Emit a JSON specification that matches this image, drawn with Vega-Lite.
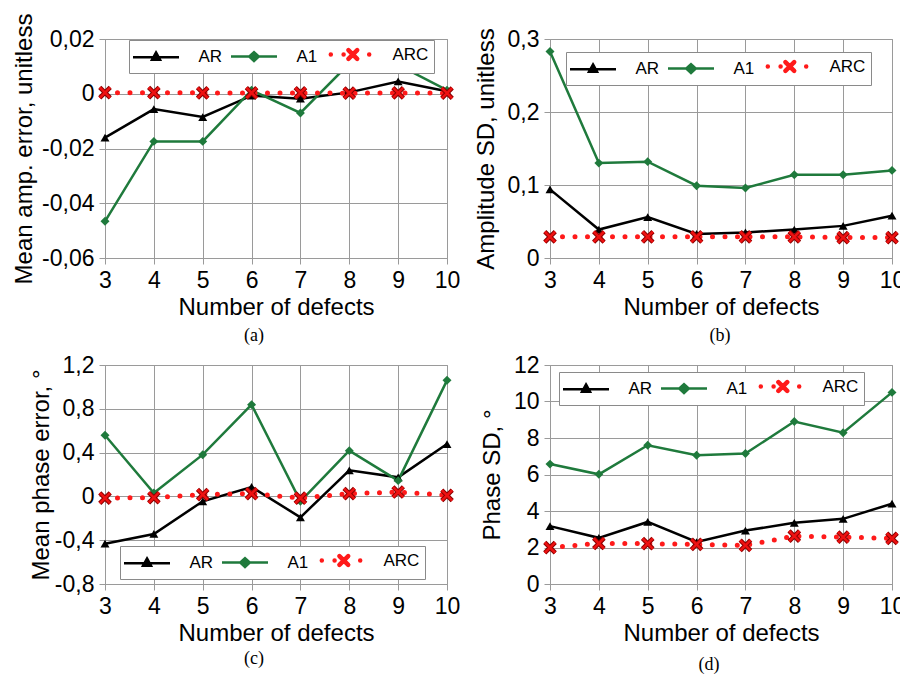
{
  "$schema": "https://vega.github.io/schema/vega-lite/v6.json",
  "background": "white",
  "padding": {"left": 12, "top": 12, "right": 0, "bottom": 0},
  "autosize": {"type": "pad"},
  "datasets": {
    "d": [
      {"p":"a","s":"AR","n":3,"v":-0.016},{"p":"a","s":"AR","n":4,"v":-0.0056},{"p":"a","s":"AR","n":5,"v":-0.0085},{"p":"a","s":"AR","n":6,"v":-0.0007},{"p":"a","s":"AR","n":7,"v":-0.0018},{"p":"a","s":"AR","n":8,"v":0.0005},{"p":"a","s":"AR","n":9,"v":0.0045},{"p":"a","s":"AR","n":10,"v":0.0009},
      {"p":"a","s":"A1","n":3,"v":-0.0466},{"p":"a","s":"A1","n":4,"v":-0.0174},{"p":"a","s":"A1","n":5,"v":-0.0174},{"p":"a","s":"A1","n":6,"v":0.0013},{"p":"a","s":"A1","n":7,"v":-0.007},{"p":"a","s":"A1","n":8,"v":0.011},{"p":"a","s":"A1","n":9,"v":0.0105},{"p":"a","s":"A1","n":10,"v":0.0013},
      {"p":"a","s":"ARC","n":3,"v":0.0004},{"p":"a","s":"ARC","n":4,"v":0.0004},{"p":"a","s":"ARC","n":5,"v":0.0003},{"p":"a","s":"ARC","n":6,"v":0.0003},{"p":"a","s":"ARC","n":7,"v":0.0003},{"p":"a","s":"ARC","n":8,"v":0.0002},{"p":"a","s":"ARC","n":9,"v":0.0003},{"p":"a","s":"ARC","n":10,"v":0.0002},
      {"p":"b","s":"AR","n":3,"v":0.094},{"p":"b","s":"AR","n":4,"v":0.039},{"p":"b","s":"AR","n":5,"v":0.056},{"p":"b","s":"AR","n":6,"v":0.033},{"p":"b","s":"AR","n":7,"v":0.035},{"p":"b","s":"AR","n":8,"v":0.039},{"p":"b","s":"AR","n":9,"v":0.044},{"p":"b","s":"AR","n":10,"v":0.058},
      {"p":"b","s":"A1","n":3,"v":0.283},{"p":"b","s":"A1","n":4,"v":0.13},{"p":"b","s":"A1","n":5,"v":0.132},{"p":"b","s":"A1","n":6,"v":0.099},{"p":"b","s":"A1","n":7,"v":0.096},{"p":"b","s":"A1","n":8,"v":0.114},{"p":"b","s":"A1","n":9,"v":0.114},{"p":"b","s":"A1","n":10,"v":0.12},
      {"p":"b","s":"ARC","n":3,"v":0.029},{"p":"b","s":"ARC","n":4,"v":0.029},{"p":"b","s":"ARC","n":5,"v":0.029},{"p":"b","s":"ARC","n":6,"v":0.029},{"p":"b","s":"ARC","n":7,"v":0.029},{"p":"b","s":"ARC","n":8,"v":0.029},{"p":"b","s":"ARC","n":9,"v":0.028},{"p":"b","s":"ARC","n":10,"v":0.028},
      {"p":"c","s":"AR","n":3,"v":-0.432},{"p":"c","s":"AR","n":4,"v":-0.343},{"p":"c","s":"AR","n":5,"v":-0.045},{"p":"c","s":"AR","n":6,"v":0.086},{"p":"c","s":"AR","n":7,"v":-0.191},{"p":"c","s":"AR","n":8,"v":0.238},{"p":"c","s":"AR","n":9,"v":0.174},{"p":"c","s":"AR","n":10,"v":0.478},
      {"p":"c","s":"A1","n":3,"v":0.558},{"p":"c","s":"A1","n":4,"v":0.031},{"p":"c","s":"A1","n":5,"v":0.381},{"p":"c","s":"A1","n":6,"v":0.838},{"p":"c","s":"A1","n":7,"v":-0.045},{"p":"c","s":"A1","n":8,"v":0.418},{"p":"c","s":"A1","n":9,"v":0.144},{"p":"c","s":"A1","n":10,"v":1.06},
      {"p":"c","s":"ARC","n":3,"v":-0.015},{"p":"c","s":"ARC","n":4,"v":-0.012},{"p":"c","s":"ARC","n":5,"v":0.016},{"p":"c","s":"ARC","n":6,"v":0.025},{"p":"c","s":"ARC","n":7,"v":-0.015},{"p":"c","s":"ARC","n":8,"v":0.025},{"p":"c","s":"ARC","n":9,"v":0.04},{"p":"c","s":"ARC","n":10,"v":0.01},
      {"p":"d","s":"AR","n":3,"v":3.17},{"p":"d","s":"AR","n":4,"v":2.53},{"p":"d","s":"AR","n":5,"v":3.4},{"p":"d","s":"AR","n":6,"v":2.3},{"p":"d","s":"AR","n":7,"v":2.93},{"p":"d","s":"AR","n":8,"v":3.35},{"p":"d","s":"AR","n":9,"v":3.57},{"p":"d","s":"AR","n":10,"v":4.4},
      {"p":"d","s":"A1","n":3,"v":6.57},{"p":"d","s":"A1","n":4,"v":6.01},{"p":"d","s":"A1","n":5,"v":7.6},{"p":"d","s":"A1","n":6,"v":7.06},{"p":"d","s":"A1","n":7,"v":7.15},{"p":"d","s":"A1","n":8,"v":8.9},{"p":"d","s":"A1","n":9,"v":8.29},{"p":"d","s":"A1","n":10,"v":10.5},
      {"p":"d","s":"ARC","n":3,"v":1.99},{"p":"d","s":"ARC","n":4,"v":2.23},{"p":"d","s":"ARC","n":5,"v":2.21},{"p":"d","s":"ARC","n":6,"v":2.17},{"p":"d","s":"ARC","n":7,"v":2.12},{"p":"d","s":"ARC","n":8,"v":2.62},{"p":"d","s":"ARC","n":9,"v":2.57},{"p":"d","s":"ARC","n":10,"v":2.5}
    ]
  },
  "columns": 2,
  "align": "each",
  "spacing": {"row": 7, "column": 11},
  "resolve": {"scale": {"color": "independent"}, "legend": {"color": "independent"}},
  "concat": [
    {
      "width": 342, "height": 219,
      "data": {"name": "d"},
      "transform": [{"filter": "datum.p == 'a'"}],
      "title": {"text": "(a)", "offset": 8, "dx": -22, "fontSize": 18, "font": "Liberation Serif", "fontWeight": "normal"},
      "encoding": {
        "x": {"field": "n", "type": "quantitative", "scale": {"domain": [3, 10], "nice": false, "zero": false}, "axis": {"title": "Number of defects", "values": [3,4,5,6,7,8,9,10], "format": "d"}},
        "y": {"field": "v", "type": "quantitative", "scale": {"domain": [-0.06, 0.02], "nice": false, "zero": false}, "axis": {"title": "Mean amp. error, unitless", "values": [-0.06,-0.04,-0.02,0,0.02], "titlePadding": 5, "labelExpr": "datum.value == 0 ? '0' : replace(replace(format(datum.value, '.2f'), '.', ','), '\u2212', '-')"}}
      },
      "layer": [
        {"transform": [{"filter": "datum.s != 'ARC'"}], "mark": {"type": "line", "strokeWidth": 2.5},
         "encoding": {"color": {"field": "s", "type": "nominal", "scale": {"domain": ["AR","A1","ARC"], "range": ["#000000","#1f7a3c","#ff1a1a"]},
           "legend": {"orient": "none", "legendX": 24, "legendY": 1, "direction": "horizontal", "title": null, "symbolSize": 256, "labelOffset": 33, "symbolOffset": 12.5, "columnPadding": 3, "padding": 5, "strokeColor": "#8a8a8a", "fillColor": "#ffffff", "labelFontSize": 17, "labelFont": "Liberation Sans", "labelColor": "#000000",
             "encode": {
               "legend": {"update": {"stroke": {"value": "#8a8a8a"}, "strokeWidth": {"value": 1}, "fill": {"value": "#ffffff"}}},
               "symbols": {"update": {
               "size": {"value": 256},
               "shape": {"signal": "(datum.value == 'AR' ? 'M-2.875,0L2.875,0M0,-0.6L0.5,0.3L-0.5,0.3Z' : datum.value == 'A1' ? 'M-2.875,0L2.875,0M0,-0.55L0.6,0L0,0.55L-0.6,0Z' : 'M-2.4,0L-2.4,0M-0.8,0L-0.8,0M2.4,0L2.4,0M-0.2,-0.55L0.9,0.55M-0.2,0.55L0.9,-0.55')"},
               "stroke": {"signal": "(datum.value == 'AR' ? '#000000' : datum.value == 'A1' ? '#1f7a3c' : '#ff1a1a')"},
               "fill": {"signal": "(datum.value == 'AR' ? '#000000' : datum.value == 'A1' ? '#1f7a3c' : 'transparent')"},
               "strokeWidth": {"signal": "(datum.value == 'ARC' ? 4.5 : 2.5)"},
               "strokeCap": {"signal": "(datum.value == 'ARC' ? 'round' : 'butt')"},
               "opacity": {"value": 1}}}}}}}},
        {"transform": [{"filter": "datum.s == 'AR'"}], "mark": {"type": "point", "shape": "triangle-up", "filled": true, "size": 80, "color": "#000000", "opacity": 1}},
        {"transform": [{"filter": "datum.s == 'A1'"}], "mark": {"type": "point", "shape": "diamond", "filled": true, "size": 80, "color": "#1f7a3c", "opacity": 1}},
        {"transform": [{"filter": "datum.s == 'ARC'"}], "mark": {"type": "line", "color": "#ff1a1a", "strokeWidth": 5, "strokeDash": [0, 12.5], "strokeCap": "round"}},
        {"transform": [{"filter": "datum.s == 'ARC'"}], "mark": {"type": "point", "shape": "M-1,-1L1,1M-1,1L1,-1", "filled": false, "size": 110, "color": "#8b0000", "strokeWidth": 4.5, "opacity": 1}},
        {"transform": [{"filter": "datum.s == 'ARC'"}], "mark": {"type": "point", "shape": "M-1,-1L1,1M-1,1L1,-1", "filled": false, "size": 110, "color": "#ee1111", "strokeWidth": 2.5, "opacity": 1}}
      ]
    },
    {
      "width": 342, "height": 219,
      "data": {"name": "d"},
      "transform": [{"filter": "datum.p == 'b'"}],
      "title": {"text": "(b)", "offset": 8, "dx": -1, "fontSize": 18, "font": "Liberation Serif", "fontWeight": "normal"},
      "encoding": {
        "x": {"field": "n", "type": "quantitative", "scale": {"domain": [3, 10], "nice": false, "zero": false}, "axis": {"title": "Number of defects", "values": [3,4,5,6,7,8,9,10], "format": "d"}},
        "y": {"field": "v", "type": "quantitative", "scale": {"domain": [0, 0.3], "nice": false, "zero": false}, "axis": {"title": "Amplitude SD, unitless", "values": [0,0.1,0.2,0.3], "titlePadding": 9, "labelExpr": "datum.value == 0 ? '0' : replace(replace(format(datum.value, '.1f'), '.', ','), '\u2212', '-')"}}
      },
      "layer": [
        {"transform": [{"filter": "datum.s != 'ARC'"}], "mark": {"type": "line", "strokeWidth": 2.5},
         "encoding": {"color": {"field": "s", "type": "nominal", "scale": {"domain": ["AR","A1","ARC"], "range": ["#000000","#1f7a3c","#ff1a1a"]},
           "legend": {"orient": "none", "legendX": 16, "legendY": 13, "direction": "horizontal", "title": null, "symbolSize": 256, "labelOffset": 33, "symbolOffset": 12.5, "columnPadding": 3, "padding": 5, "strokeColor": "#8a8a8a", "fillColor": "#ffffff", "labelFontSize": 17, "labelFont": "Liberation Sans", "labelColor": "#000000",
             "encode": {
               "legend": {"update": {"stroke": {"value": "#8a8a8a"}, "strokeWidth": {"value": 1}, "fill": {"value": "#ffffff"}}},
               "symbols": {"update": {
               "size": {"value": 256},
               "shape": {"signal": "(datum.value == 'AR' ? 'M-2.875,0L2.875,0M0,-0.6L0.5,0.3L-0.5,0.3Z' : datum.value == 'A1' ? 'M-2.875,0L2.875,0M0,-0.55L0.6,0L0,0.55L-0.6,0Z' : 'M-2.4,0L-2.4,0M-0.8,0L-0.8,0M2.4,0L2.4,0M-0.2,-0.55L0.9,0.55M-0.2,0.55L0.9,-0.55')"},
               "stroke": {"signal": "(datum.value == 'AR' ? '#000000' : datum.value == 'A1' ? '#1f7a3c' : '#ff1a1a')"},
               "fill": {"signal": "(datum.value == 'AR' ? '#000000' : datum.value == 'A1' ? '#1f7a3c' : 'transparent')"},
               "strokeWidth": {"signal": "(datum.value == 'ARC' ? 4.5 : 2.5)"},
               "strokeCap": {"signal": "(datum.value == 'ARC' ? 'round' : 'butt')"},
               "opacity": {"value": 1}}}}}}}},
        {"transform": [{"filter": "datum.s == 'AR'"}], "mark": {"type": "point", "shape": "triangle-up", "filled": true, "size": 80, "color": "#000000", "opacity": 1}},
        {"transform": [{"filter": "datum.s == 'A1'"}], "mark": {"type": "point", "shape": "diamond", "filled": true, "size": 80, "color": "#1f7a3c", "opacity": 1}},
        {"transform": [{"filter": "datum.s == 'ARC'"}], "mark": {"type": "line", "color": "#ff1a1a", "strokeWidth": 5, "strokeDash": [0, 12.5], "strokeCap": "round"}},
        {"transform": [{"filter": "datum.s == 'ARC'"}], "mark": {"type": "point", "shape": "M-1,-1L1,1M-1,1L1,-1", "filled": false, "size": 110, "color": "#8b0000", "strokeWidth": 4.5, "opacity": 1}},
        {"transform": [{"filter": "datum.s == 'ARC'"}], "mark": {"type": "point", "shape": "M-1,-1L1,1M-1,1L1,-1", "filled": false, "size": 110, "color": "#ee1111", "strokeWidth": 2.5, "opacity": 1}}
      ]
    },
    {
      "width": 342, "height": 219,
      "data": {"name": "d"},
      "transform": [{"filter": "datum.p == 'c'"}],
      "title": {"text": "(c)", "offset": 5, "dx": -22, "fontSize": 18, "font": "Liberation Serif", "fontWeight": "normal"},
      "encoding": {
        "x": {"field": "n", "type": "quantitative", "scale": {"domain": [3, 10], "nice": false, "zero": false}, "axis": {"title": "Number of defects", "values": [3,4,5,6,7,8,9,10], "format": "d"}},
        "y": {"field": "v", "type": "quantitative", "scale": {"domain": [-0.8, 1.2], "nice": false, "zero": false}, "axis": {"title": "Mean phase error, °", "values": [-0.8,-0.4,0,0.4,0.8,1.2], "titlePadding": 1, "labelExpr": "datum.value == 0 ? '0' : replace(replace(format(datum.value, '.1f'), '.', ','), '\u2212', '-')"}}
      },
      "layer": [
        {"transform": [{"filter": "datum.s != 'ARC'"}], "mark": {"type": "line", "strokeWidth": 2.5},
         "encoding": {"color": {"field": "s", "type": "nominal", "scale": {"domain": ["AR","A1","ARC"], "range": ["#000000","#1f7a3c","#ff1a1a"]},
           "legend": {"orient": "none", "legendX": 15, "legendY": 181, "direction": "horizontal", "title": null, "symbolSize": 256, "labelOffset": 33, "symbolOffset": 12.5, "columnPadding": 3, "padding": 5, "strokeColor": "#8a8a8a", "fillColor": "#ffffff", "labelFontSize": 17, "labelFont": "Liberation Sans", "labelColor": "#000000",
             "encode": {
               "legend": {"update": {"stroke": {"value": "#8a8a8a"}, "strokeWidth": {"value": 1}, "fill": {"value": "#ffffff"}}},
               "symbols": {"update": {
               "size": {"value": 256},
               "shape": {"signal": "(datum.value == 'AR' ? 'M-2.875,0L2.875,0M0,-0.6L0.5,0.3L-0.5,0.3Z' : datum.value == 'A1' ? 'M-2.875,0L2.875,0M0,-0.55L0.6,0L0,0.55L-0.6,0Z' : 'M-2.4,0L-2.4,0M-0.8,0L-0.8,0M2.4,0L2.4,0M-0.2,-0.55L0.9,0.55M-0.2,0.55L0.9,-0.55')"},
               "stroke": {"signal": "(datum.value == 'AR' ? '#000000' : datum.value == 'A1' ? '#1f7a3c' : '#ff1a1a')"},
               "fill": {"signal": "(datum.value == 'AR' ? '#000000' : datum.value == 'A1' ? '#1f7a3c' : 'transparent')"},
               "strokeWidth": {"signal": "(datum.value == 'ARC' ? 4.5 : 2.5)"},
               "strokeCap": {"signal": "(datum.value == 'ARC' ? 'round' : 'butt')"},
               "opacity": {"value": 1}}}}}}}},
        {"transform": [{"filter": "datum.s == 'AR'"}], "mark": {"type": "point", "shape": "triangle-up", "filled": true, "size": 80, "color": "#000000", "opacity": 1}},
        {"transform": [{"filter": "datum.s == 'A1'"}], "mark": {"type": "point", "shape": "diamond", "filled": true, "size": 80, "color": "#1f7a3c", "opacity": 1}},
        {"transform": [{"filter": "datum.s == 'ARC'"}], "mark": {"type": "line", "color": "#ff1a1a", "strokeWidth": 5, "strokeDash": [0, 12.5], "strokeCap": "round"}},
        {"transform": [{"filter": "datum.s == 'ARC'"}], "mark": {"type": "point", "shape": "M-1,-1L1,1M-1,1L1,-1", "filled": false, "size": 110, "color": "#8b0000", "strokeWidth": 4.5, "opacity": 1}},
        {"transform": [{"filter": "datum.s == 'ARC'"}], "mark": {"type": "point", "shape": "M-1,-1L1,1M-1,1L1,-1", "filled": false, "size": 110, "color": "#ee1111", "strokeWidth": 2.5, "opacity": 1}}
      ]
    },
    {
      "width": 342, "height": 219,
      "data": {"name": "d"},
      "transform": [{"filter": "datum.p == 'd'"}],
      "title": {"text": "(d)", "offset": 11, "dx": -12, "fontSize": 18, "font": "Liberation Serif", "fontWeight": "normal"},
      "encoding": {
        "x": {"field": "n", "type": "quantitative", "scale": {"domain": [3, 10], "nice": false, "zero": false}, "axis": {"title": "Number of defects", "values": [3,4,5,6,7,8,9,10], "format": "d"}},
        "y": {"field": "v", "type": "quantitative", "scale": {"domain": [0, 12], "nice": false, "zero": false}, "axis": {"title": "Phase SD, °", "values": [0,2,4,6,8,10,12], "titlePadding": 9, "format": "d"}}
      },
      "layer": [
        {"transform": [{"filter": "datum.s != 'ARC'"}], "mark": {"type": "line", "strokeWidth": 2.5},
         "encoding": {"color": {"field": "s", "type": "nominal", "scale": {"domain": ["AR","A1","ARC"], "range": ["#000000","#1f7a3c","#ff1a1a"]},
           "legend": {"orient": "none", "legendX": 9, "legendY": 7, "direction": "horizontal", "title": null, "symbolSize": 256, "labelOffset": 33, "symbolOffset": 12.5, "columnPadding": 3, "padding": 5, "strokeColor": "#8a8a8a", "fillColor": "#ffffff", "labelFontSize": 17, "labelFont": "Liberation Sans", "labelColor": "#000000",
             "encode": {
               "legend": {"update": {"stroke": {"value": "#8a8a8a"}, "strokeWidth": {"value": 1}, "fill": {"value": "#ffffff"}}},
               "symbols": {"update": {
               "size": {"value": 256},
               "shape": {"signal": "(datum.value == 'AR' ? 'M-2.875,0L2.875,0M0,-0.6L0.5,0.3L-0.5,0.3Z' : datum.value == 'A1' ? 'M-2.875,0L2.875,0M0,-0.55L0.6,0L0,0.55L-0.6,0Z' : 'M-2.4,0L-2.4,0M-0.8,0L-0.8,0M2.4,0L2.4,0M-0.2,-0.55L0.9,0.55M-0.2,0.55L0.9,-0.55')"},
               "stroke": {"signal": "(datum.value == 'AR' ? '#000000' : datum.value == 'A1' ? '#1f7a3c' : '#ff1a1a')"},
               "fill": {"signal": "(datum.value == 'AR' ? '#000000' : datum.value == 'A1' ? '#1f7a3c' : 'transparent')"},
               "strokeWidth": {"signal": "(datum.value == 'ARC' ? 4.5 : 2.5)"},
               "strokeCap": {"signal": "(datum.value == 'ARC' ? 'round' : 'butt')"},
               "opacity": {"value": 1}}}}}}}},
        {"transform": [{"filter": "datum.s == 'AR'"}], "mark": {"type": "point", "shape": "triangle-up", "filled": true, "size": 80, "color": "#000000", "opacity": 1}},
        {"transform": [{"filter": "datum.s == 'A1'"}], "mark": {"type": "point", "shape": "diamond", "filled": true, "size": 80, "color": "#1f7a3c", "opacity": 1}},
        {"transform": [{"filter": "datum.s == 'ARC'"}], "mark": {"type": "line", "color": "#ff1a1a", "strokeWidth": 5, "strokeDash": [0, 12.5], "strokeCap": "round"}},
        {"transform": [{"filter": "datum.s == 'ARC'"}], "mark": {"type": "point", "shape": "M-1,-1L1,1M-1,1L1,-1", "filled": false, "size": 110, "color": "#8b0000", "strokeWidth": 4.5, "opacity": 1}},
        {"transform": [{"filter": "datum.s == 'ARC'"}], "mark": {"type": "point", "shape": "M-1,-1L1,1M-1,1L1,-1", "filled": false, "size": 110, "color": "#ee1111", "strokeWidth": 2.5, "opacity": 1}}
      ]
    }
  ],
  "config": {
    "font": "Liberation Sans",
    "view": {"stroke": "#9a9a9a", "strokeWidth": 1},
    "axis": {"labelFont": "Liberation Sans", "labelFontSize": 23, "labelColor": "#000000", "titleFont": "Liberation Sans", "titleFontSize": 24, "titleFontWeight": "normal", "titleColor": "#000000", "gridColor": "#9a9a9a", "gridOpacity": 1, "gridWidth": 1, "domainColor": "#9a9a9a", "tickColor": "#9a9a9a", "tickSize": 6, "labelPadding": 5, "titlePadding": 3, "labelFlush": false, "labelOverlap": false},
    "title": {"font": "Liberation Serif", "fontSize": 18, "fontWeight": "normal", "color": "#000000", "orient": "bottom", "anchor": "middle", "frame": "group"}
  }
}
